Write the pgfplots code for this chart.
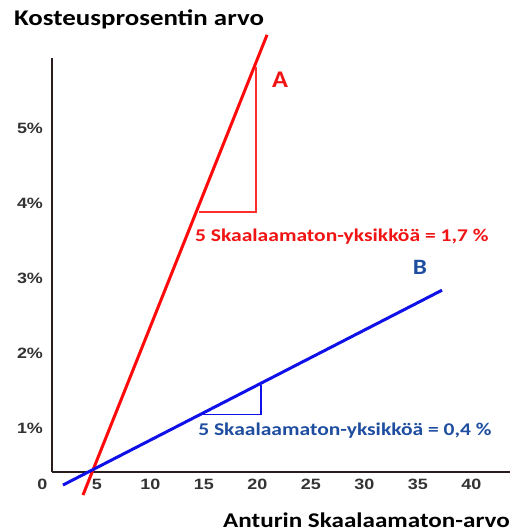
\documentclass[border=0pt]{standalone}
\usepackage{fontspec}
\setmainfont{Carlito}
\newfontfamily\arialfont{Liberation Sans}
\usepackage{pgfplots}
\pgfplotsset{compat=1.18}
\definecolor{axiscol}{HTML}{2B1D1D}
\definecolor{ticklab}{HTML}{333333}
\definecolor{redline}{HTML}{FF0A0A}
\definecolor{redtext}{HTML}{F01414}
\definecolor{blueline}{HTML}{1010E8}
\definecolor{bluetext}{HTML}{1F4EA0}
\begin{document}
\begin{tikzpicture}
\begin{axis}[
  x=10.7bp, y=75.1bp,
  xmin=0.8, xmax=43.6, ymin=0.42, ymax=5.93,
  axis lines=left,
  axis line style={-, line width=1.8bp, color=axiscol},
  clip=false,
  major tick length=0pt,
  xtick={5,10,15,20,25,30,35,40},
  xticklabels={5,10,15,20,25,30,35,40},
  ytick={1,2,3,4,5},
  yticklabels={1\%,2\%,3\%,4\%,5\%},
  tick label style={font=\arialfont\bfseries\fontsize{15}{17}\selectfont, text=ticklab, xscale=1.2},
  xticklabel style={yshift=-4bp},
  yticklabel style={xshift=-4bp},
]
\addplot[redline, line width=3bp] coordinates {(3.70,0.113) (20.90,6.24)};
\addplot[blueline, line width=3bp] coordinates {(1.83,0.246) (37.25,2.84)};
\addplot[redline!85!white, line width=1.6bp] coordinates {(14.54,3.88) (19.87,3.88) (19.87,5.81)};
\addplot[blueline, line width=1.2bp] coordinates {(14.82,1.19) (20.34,1.19) (20.34,1.58)};
\node[anchor=north, font=\arialfont\bfseries\fontsize{15}{17}\selectfont, text=ticklab, yshift=-4bp, xscale=1.2] at (axis cs:-0.1,0.42) {0};
\node[anchor=base west, inner sep=0pt, xscale=1.2, font=\bfseries\fontsize{22.5}{26}\selectfont] at (axis cs:-2.75,6.358) {Kosteusprosentin arvo};
\node[anchor=base east, inner sep=0pt, xscale=1.2, font=\bfseries\fontsize{21}{24}\selectfont] at (axis cs:43.6,-0.313) {Anturin Skaalaamaton-arvo};
\node[anchor=base west, inner sep=0pt, xscale=1.2, text=redtext, font=\bfseries\fontsize{18}{20}\selectfont] at (axis cs:14.16,3.482) {5 Skaalaamaton-yksikköä = 1,7 \%};
\node[anchor=base west, inner sep=0pt, xscale=1.2, text=bluetext, font=\bfseries\fontsize{18}{20}\selectfont] at (axis cs:14.45,0.912) {5 Skaalaamaton-yksikköä = 0,4 \%};
\node[anchor=base, inner sep=0pt, xscale=1.1, text=redtext, font=\bfseries\fontsize{24}{26}\selectfont] at (axis cs:22.11,5.533) {A};
\node[anchor=base, inner sep=0pt, xscale=1.15, text=bluetext, font=\bfseries\fontsize{22}{26}\selectfont] at (axis cs:35.19,3.043) {B};
\coordinate (BL) at (axis cs:-4.056,-0.3795);
\coordinate (TR) at (axis cs:43.79,6.704);
\end{axis}
\pgfresetboundingbox
\path[use as bounding box] (BL) rectangle (TR);
\end{tikzpicture}
\end{document}
